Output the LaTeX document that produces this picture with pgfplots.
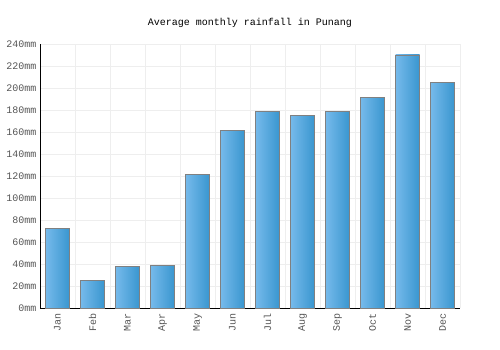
\documentclass[border=0pt]{standalone}
\usepackage{pgfplots}
\pgfplotsset{compat=1.18}
\usepackage{fontspec}
\setmainfont{Liberation Mono}
\setmonofont{Liberation Mono}
\definecolor{gridc}{HTML}{EEEEEE}
\definecolor{txt}{HTML}{555555}
\definecolor{barL}{HTML}{76BAEB}
\definecolor{barR}{HTML}{3996CF}
\pgfplotsset{mybar/.style={ybar, bar width=24pt, bar shift=0pt, draw=gray, line width=0.8pt, left color=barL, right color=barR}}
\begin{document}
\begin{tikzpicture}[x=1pt,y=1pt]
\useasboundingbox (0,0) rectangle (500,350);
\node[font=\fontsize{10}{12}\selectfont, text=black] at (250,327.5) {Average monthly rainfall in Punang};
\begin{axis}[
  at={(40pt,42pt)}, anchor=south west,
  width=420pt, height=264pt, scale only axis,
  xmin=-0.5, xmax=11.5, ymin=0, ymax=240,
  axis x line*=bottom, axis y line*=left,
  axis line style={black, thick, -},
  xtick={0,...,11},
  xticklabels={Jan,Feb,Mar,Apr,May,Jun,Jul,Aug,Sep,Oct,Nov,Dec},
  x tick label style={rotate=90, anchor=east, font=\fontsize{10}{12}\selectfont, text=txt},
  xticklabel shift=2pt,
  minor xtick={-0.5,0.5,...,11.5},
  ytick={0,20,...,240},
  yticklabel={\pgfmathprintnumber{\tick}mm},
  y tick label style={font=\fontsize{10}{12}\selectfont, text=txt},
  /pgf/number format/assume math mode=true,
  major tick length=0pt, minor tick length=0pt,
  ymajorgrids, xminorgrids,
  grid style={gridc, line width=0.8pt},
  minor grid style={gridc, line width=0.8pt},
  clip=false,
]
\addplot[mybar] coordinates {(0,72)};
\addplot[mybar] coordinates {(1,25)};
\addplot[mybar] coordinates {(2,38)};
\addplot[mybar] coordinates {(3,39)};
\addplot[mybar] coordinates {(4,121)};
\addplot[mybar] coordinates {(5,161)};
\addplot[mybar] coordinates {(6,179)};
\addplot[mybar] coordinates {(7,175)};
\addplot[mybar] coordinates {(8,179)};
\addplot[mybar] coordinates {(9,191)};
\addplot[mybar] coordinates {(10,230)};
\addplot[mybar] coordinates {(11,205)};
\end{axis}
\end{tikzpicture}
\end{document}
